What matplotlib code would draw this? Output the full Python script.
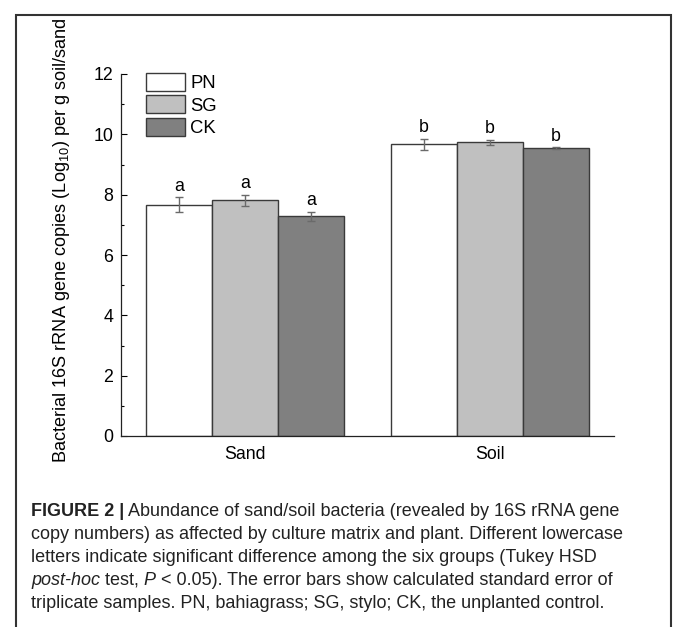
import matplotlib
matplotlib.use("Agg")
import matplotlib.pyplot as plt
import matplotlib.transforms as mtransforms
from matplotlib.patches import Rectangle
import numpy as np

plt.rcParams["font.family"] = ["Liberation Sans", "DejaVu Sans"]
plt.rcParams["mathtext.fontset"] = "custom"
plt.rcParams["mathtext.rm"] = "Liberation Sans"
plt.rcParams["mathtext.it"] = "Liberation Sans:italic"

# Data
matrices = ["Sand", "Soil"]
treatments = ["PN", "SG", "CK"]
means = {
    "PN": [7.67, 9.67],
    "SG": [7.81, 9.73],
    "CK": [7.29, 9.55],
}
errors = {
    "PN": [0.24, 0.19],
    "SG": [0.18, 0.08],
    "CK": [0.15, 0.02],
}
letters = {
    "PN": ["a", "b"],
    "SG": ["a", "b"],
    "CK": ["a", "b"],
}
colors = {"PN": "#ffffff", "SG": "#c0c0c0", "CK": "#808080"}

W, H = 673, 627
fig = plt.figure(figsize=(W / 100, H / 100), dpi=100)
ax = fig.add_axes([121 / W, 1 - 436 / H, (614 - 121) / W, (436 - 74) / H])

x = np.arange(1, len(matrices) + 1)
width = 0.27
for k, t in enumerate(treatments):
    xs = x + (k - 1) * width
    ax.bar(xs, means[t], width, color=colors[t], edgecolor="#3a3a3a",
           linewidth=1.0, label=t, zorder=2)
    ax.errorbar(xs, means[t], yerr=errors[t], fmt="none", ecolor="#6a6a6a",
                elinewidth=1.0, capsize=3, capthick=1.0, zorder=3)
    for xi, m, e, lt in zip(xs, means[t], errors[t], letters[t]):
        ax.text(xi, m + e + 0.22, lt, ha="center", va="baseline", fontsize=12.8)

ax.set_xlim(0.494, 2.506)
ax.set_ylim(0, 12)
ax.set_xticks(x)
ax.set_xticklabels(matrices, fontsize=12.8)
ax.set_yticks(np.arange(0, 13, 2))
ax.set_yticks(np.arange(1, 12, 2), minor=True)
ax.tick_params(axis="y", which="major", direction="in", length=4.5, width=0.8,
               pad=5.5, labelsize=12.8)
ax.tick_params(axis="y", which="minor", direction="in", length=2.3, width=0.8)
ax.tick_params(axis="x", length=0, pad=7)
for s in ["top", "right"]:
    ax.spines[s].set_visible(False)
for s in ["left", "bottom"]:
    ax.spines[s].set_linewidth(0.9)
    ax.spines[s].set_color("#222222")

ax.set_ylabel("Bacterial 16S rRNA gene copies (Log$_{10}$) per g soil/sand",
              fontsize=13.1)
ax.yaxis.set_label_coords(-0.099, 0.54)

leg = ax.legend(loc="upper left", bbox_to_anchor=(0.0507, 1.003), frameon=False,
                fontsize=13.3, handlelength=2.1, handleheight=1.1,
                labelspacing=0.18, handletextpad=0.3, borderpad=0,
                borderaxespad=0)

# Outer frame
fig.patches.append(Rectangle((16 / W, -0.05), (671 - 16) / W, 1.05 - 15 / H,
                             transform=fig.transFigure, fill=False,
                             edgecolor="#333333", linewidth=1.5))

# Caption
ident = mtransforms.IdentityTransform()
renderer = fig.canvas.get_renderer()
cap_lines = [
    [("FIGURE 2 |", "bold"), (" Abundance of sand/soil bacteria (revealed by 16S rRNA gene", "normal")],
    [("copy numbers) as affected by culture matrix and plant. Different lowercase", "normal")],
    [("letters indicate significant difference among the six groups (Tukey HSD", "normal")],
    [("post-hoc", "italic"), (" test, ", "normal"), ("P", "italic"),
     (" < 0.05). The error bars show calculated standard error of", "normal")],
    [("triplicate samples. PN, bahiagrass; SG, stylo; CK, the unplanted control.", "normal")],
]
base_y = 516.5
for i, runs in enumerate(cap_lines):
    xp = 31
    yp = H - (base_y + i * 22.8)
    for txt, style in runs:
        kw = {"fontweight": "bold"} if style == "bold" else {}
        if style == "italic":
            kw["fontstyle"] = "italic"
        tt = fig.text(xp, yp, txt, transform=ident, fontsize=13.0,
                      color="#222222", va="baseline", ha="left", **kw)
        xp += tt.get_window_extent(renderer).width

fig.savefig("out.png", dpi=100)
